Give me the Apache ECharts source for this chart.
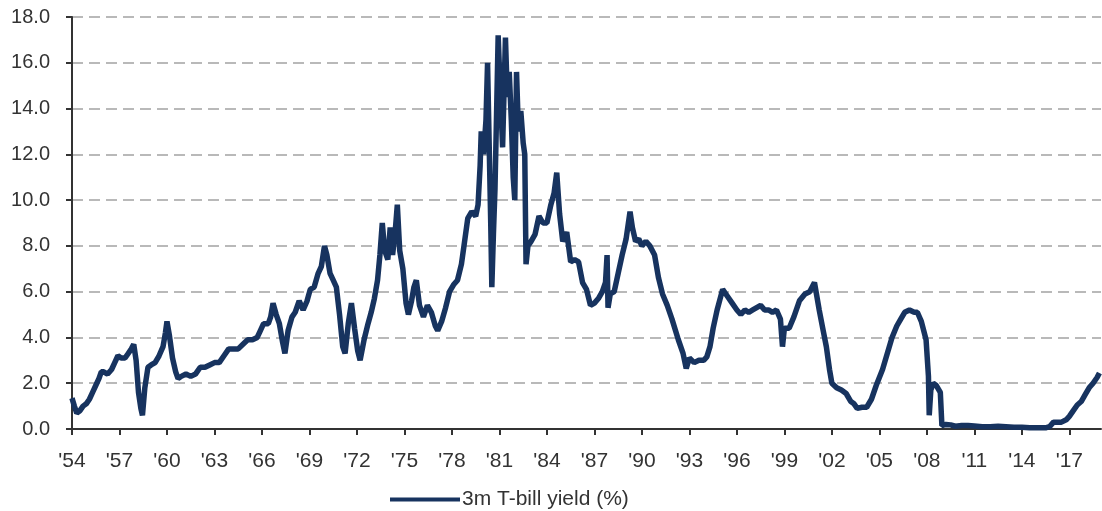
<!DOCTYPE html>
<html>
<head>
<meta charset="utf-8">
<script src="https://cdn.jsdelivr.net/npm/echarts@6/dist/echarts.min.js"></script>
<style>
  html, body { margin: 0; padding: 0; background: #fff; }
  #chart { width: 1102px; height: 511px; }
</style>
</head>
<body>
<div id="chart"></div>
<script>
const seriesName = '3m T-bill yield (%)';

const dates = [
  1954.00,1954.15,1954.30,1954.50,1954.70,1954.90,1955.10,1955.30,
  1955.50,1955.70,1955.85,1956.00,1956.25,1956.50,1956.70,1956.90,
  1957.10,1957.35,1957.55,1957.75,1957.90,1958.05,1958.20,1958.35,
  1958.45,1958.60,1958.80,1959.00,1959.25,1959.50,1959.75,1959.90,
  1960.00,1960.15,1960.35,1960.55,1960.70,1960.90,1961.20,1961.50,
  1961.80,1962.10,1962.40,1962.70,1963.00,1963.30,1963.60,1963.90,
  1964.20,1964.50,1964.80,1965.10,1965.40,1965.70,1965.90,1966.10,
  1966.40,1966.55,1966.70,1966.90,1967.10,1967.30,1967.45,1967.65,
  1967.90,1968.10,1968.35,1968.60,1968.85,1969.05,1969.30,1969.55,
  1969.75,1969.95,1970.10,1970.30,1970.50,1970.70,1970.90,1971.10,
  1971.25,1971.45,1971.65,1971.85,1972.05,1972.20,1972.45,1972.70,
  1972.90,1973.10,1973.30,1973.45,1973.60,1973.75,1973.95,1974.10,
  1974.25,1974.40,1974.55,1974.70,1974.90,1975.10,1975.25,1975.45,
  1975.60,1975.75,1975.95,1976.20,1976.45,1976.70,1976.95,1977.10,
  1977.35,1977.60,1977.85,1978.10,1978.35,1978.60,1978.80,1979.00,
  1979.25,1979.50,1979.65,1979.78,1979.85,1980.00,1980.15,1980.25,
  1980.35,1980.45,1980.52,1980.62,1980.72,1980.82,1980.92,1981.05,
  1981.20,1981.38,1981.50,1981.62,1981.75,1981.87,1981.97,1982.08,
  1982.20,1982.35,1982.50,1982.60,1982.68,1982.80,1983.00,1983.25,
  1983.50,1983.75,1984.00,1984.25,1984.45,1984.62,1984.80,1985.00,
  1985.25,1985.50,1985.75,1986.00,1986.25,1986.50,1986.75,1987.00,
  1987.25,1987.50,1987.70,1987.80,1987.86,1988.00,1988.25,1988.50,
  1988.75,1989.00,1989.25,1989.40,1989.60,1989.80,1990.00,1990.25,
  1990.50,1990.80,1991.05,1991.30,1991.60,1991.90,1992.30,1992.60,
  1992.80,1993.00,1993.30,1993.60,1993.90,1994.10,1994.30,1994.50,
  1994.75,1995.10,1995.40,1995.70,1996.00,1996.25,1996.50,1996.75,
  1997.00,1997.25,1997.50,1997.75,1998.00,1998.25,1998.50,1998.75,
  1998.88,1999.00,1999.30,1999.60,1999.95,2000.30,2000.60,2000.90,
  2001.20,2001.45,2001.65,2001.85,2002.00,2002.30,2002.60,2002.90,
  2003.20,2003.40,2003.60,2003.90,2004.20,2004.50,2004.80,2005.20,
  2005.50,2005.80,2006.10,2006.35,2006.60,2006.90,2007.20,2007.40,
  2007.65,2007.95,2008.10,2008.15,2008.25,2008.40,2008.60,2008.85,
  2008.95,2009.20,2009.50,2009.80,2010.20,2010.60,2011.00,2011.50,
  2012.00,2012.50,2013.00,2013.50,2014.00,2014.50,2015.00,2015.50,
  2015.75,2016.00,2016.50,2016.80,2017.00,2017.25,2017.50,2017.75,
  2018.00,2018.25,2018.50,2018.75,2018.90
];

const yields = [
  1.35,1.0,0.7,0.8,1.0,1.1,1.3,1.6,
  1.9,2.2,2.5,2.5,2.4,2.6,2.9,3.2,
  3.1,3.1,3.3,3.5,3.7,3.0,1.6,0.9,
  0.6,1.8,2.7,2.8,2.9,3.2,3.6,4.2,
  4.7,4.1,3.1,2.5,2.2,2.3,2.4,2.3,
  2.4,2.7,2.7,2.8,2.9,2.9,3.2,3.5,
  3.5,3.5,3.7,3.9,3.9,4.0,4.3,4.6,
  4.6,4.9,5.5,5.0,4.6,3.8,3.3,4.3,
  4.9,5.1,5.6,5.2,5.6,6.1,6.2,6.8,
  7.1,8.0,7.6,6.8,6.5,6.2,5.0,3.6,
  3.3,4.6,5.5,4.4,3.4,3.0,3.9,4.6,
  5.1,5.7,6.5,7.6,9.0,7.8,7.4,8.8,
  7.6,8.5,9.8,7.8,7.0,5.5,5.0,5.6,
  6.2,6.5,5.4,4.9,5.4,5.1,4.5,4.3,
  4.7,5.3,6.0,6.3,6.5,7.2,8.2,9.2,
  9.5,9.3,9.8,11.5,13.0,12.0,13.5,16.0,
  12.5,9.0,6.2,8.5,10.5,13.8,17.2,14.8,
  12.3,17.1,14.5,15.6,13.5,11.0,10.0,15.6,
  13.0,13.9,12.5,12.0,7.2,8.0,8.2,8.5,
  9.3,9.0,9.0,9.8,10.3,11.2,9.4,8.2,
  8.6,7.3,7.4,7.3,6.4,6.1,5.4,5.5,
  5.7,6.0,6.4,7.6,5.3,5.9,6.0,6.8,
  7.6,8.3,9.5,8.8,8.2,8.3,8.0,8.2,
  8.0,7.6,6.6,5.9,5.4,4.8,3.9,3.3,
  2.65,3.1,2.9,3.0,3.0,3.15,3.6,4.4,
  5.2,6.1,5.8,5.5,5.2,5.0,5.2,5.1,
  5.2,5.3,5.4,5.2,5.2,5.1,5.2,4.8,
  3.6,4.4,4.4,4.9,5.6,5.9,6.0,6.4,
  5.2,4.3,3.6,2.6,2.0,1.8,1.7,1.55,
  1.2,1.1,0.9,0.95,0.95,1.3,1.9,2.6,
  3.3,4.0,4.5,4.8,5.1,5.2,5.1,5.1,
  4.7,3.9,2.3,0.6,1.7,2.0,1.9,1.6,
  0.15,0.2,0.18,0.12,0.15,0.15,0.13,0.1,
  0.1,0.12,0.1,0.08,0.08,0.05,0.05,0.05,
  0.1,0.3,0.3,0.4,0.55,0.8,1.05,1.2,
  1.5,1.8,2.0,2.25,2.45
];

const xTickYears = [1954,1957,1960,1963,1966,1969,1972,1975,1978,1981,1984,1987,1990,1993,1996,1999,2002,2005,2008,2011,2014,2017];
const yTicks = [0,2,4,6,8,10,12,14,16,18];

const seriesData = dates.map((d, i) => [d, yields[i]]);

const FONT = "'Liberation Sans', Arial, sans-serif";
const TEXT = '#333333';
const AXIS = '#333333';

const chart = echarts.init(document.getElementById('chart'), null, { renderer: 'canvas' });
chart.setOption({
  animation: false,
  backgroundColor: '#ffffff',
  grid: { left: 72, right: 1, top: 17, bottom: 82 },
  legend: {
    left: 385, top: 484,
    icon: 'rect', itemWidth: 70, itemHeight: 4, itemGap: 5,
    textStyle: { fontFamily: FONT, fontSize: 21, color: TEXT, padding: [0, 0, 0, -3] },
    data: [seriesName]
  },
  xAxis: {
    type: 'value',
    min: xTickYears[0], max: 2019, interval: 3,
    splitLine: { show: false },
    axisLine: { show: true, lineStyle: { color: AXIS, width: 2 } },
    axisTick: { show: true, length: 6, lineStyle: { color: AXIS, width: 2 } },
    axisLabel: {
      margin: 22, fontFamily: FONT, fontSize: 21, color: TEXT,
      showMaxLabel: false,
      formatter: v => xTickYears.includes(Math.round(v)) ? "'" + String(Math.round(v)).slice(2) : ''
    }
  },
  yAxis: {
    type: 'value',
    min: yTicks[0], max: yTicks[yTicks.length - 1], interval: 2,
    axisLine: { show: true, lineStyle: { color: AXIS, width: 2 } },
    axisTick: { show: true, length: 6, lineStyle: { color: AXIS, width: 2 } },
    axisLabel: { margin: 22, fontFamily: FONT, fontSize: 20, color: TEXT, formatter: v => v.toFixed(1) },
    splitLine: { show: true, lineStyle: { color: '#a3a3a3', width: 1.5, type: [11, 6] } }
  },
  series: [{
    name: seriesName,
    type: 'line',
    data: seriesData,
    showSymbol: false,
    symbol: 'none',
    color: '#17335f',
    lineStyle: { color: '#17335f', width: 5.5 }
  }]
});
</script>
</body>
</html>
